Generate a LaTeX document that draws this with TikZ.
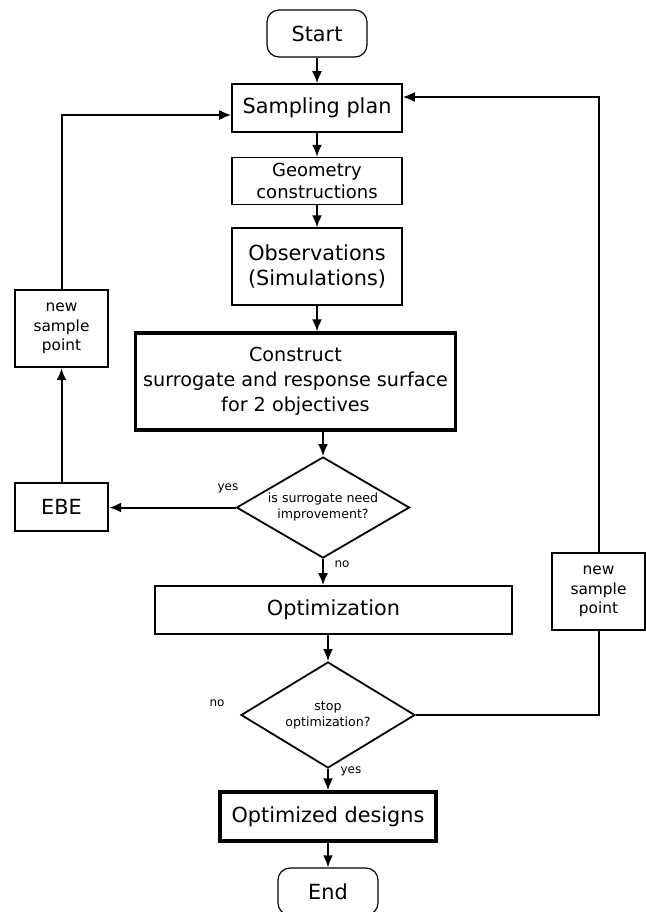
\documentclass[tikz,border=0pt]{standalone}
\usepackage{fontspec}
\setmainfont{DejaVu Sans}
\usetikzlibrary{positioning}
\usetikzlibrary{arrows.meta}
\usetikzlibrary{shapes.geometric}

\begin{document}
\begin{tikzpicture}[x=0.5pt, y=-0.5pt,
        every node/.style={align=center, inner sep=0pt},
        box/.style={draw, line width=0.8pt, minimum width=85pt,
                    font=\fontsize{10.4}{12.5}\selectfont},
        term/.style={box, line width=0.6pt, rounded corners=6pt, minimum width=50pt, minimum height=23.5pt},
        thickbox/.style={draw, line width=1.6pt, font=\fontsize{10.4}{12.5}\selectfont},
        sidebox/.style={draw, line width=1.2pt, minimum width=46.5pt},
        decision/.style={draw, diamond, aspect=1.7, line width=0.9pt, font=\fontsize{6.3}{8}\selectfont},
        lbl/.style={font=\fontsize{6}{7}\selectfont},
        line/.style={draw, line width=1pt},
        arr/.style={line, -{Latex[length=6pt,width=5pt]}}]
    \useasboundingbox (0,0) rectangle (646,912);

    % main column
    \node[term] (start) at (317,33.5) {Start};
    \node[box, minimum height=24pt] (samp) at (317,108) {Sampling plan};
    \node[box, minimum height=23.5pt, font=\fontsize{9}{11}\selectfont,
          below=12pt of samp] (geom) {Geometry\\constructions};
    \node[box, minimum height=38.5pt, below=11pt of geom] (obs) {Observations\\(Simulations)};
    \node[thickbox, minimum width=160pt, minimum height=48.5pt,
          font=\fontsize{9.6}{12.4}\selectfont] (cons) at (295.5,381.5)
        {Construct\\surrogate and response surface\\for 2 objectives};
    \node[decision, minimum width=86.5pt, minimum height=50.5pt] (dec1) at (323,507.5)
        {is surrogate need\\improvement?};
    \node[box, minimum width=178.5pt, minimum height=24pt] (opt) at (333.5,610)
        {Optimization};
    \node[decision, minimum width=87pt, minimum height=53pt] (dec2) at (328,715)
        {stop\\optimization?};
    \node[thickbox, minimum width=108pt, minimum height=24.5pt] (optd) at (328,816.5)
        {Optimized designs};
    \node[term] (end) at (328,891.5) {End};

    % side boxes
    \node[sidebox, minimum height=24pt, font=\fontsize{10.4}{12.5}\selectfont] (ebe) at (61.5,507) {EBE};
    \node[sidebox, minimum height=38.5pt, font=\fontsize{7.7}{9.7}\selectfont] (nsp1) at (61.5,328.5)
        {new\\sample\\point};
    \node[sidebox, minimum height=38.5pt, font=\fontsize{7.7}{9.7}\selectfont] (nsp2) at (598.5,591.5)
        {new\\sample\\point};

    % labels
    \node[lbl] (yes1) at (228,488) {yes};
    \node[lbl] (no1) at (342,564) {no};
    \node[lbl] (no2) at (217,703) {no};
    \node[lbl] (yes2) at (351,771) {yes};

    % connectors
    \draw[arr] (start) -- (samp);
    \draw[arr] (samp) -- (geom);
    \draw[arr] (geom) -- (obs);
    \draw[arr] (obs.south) -- (obs.south |- cons.north);
    \draw[arr] (cons.south -| dec1.north) -- (dec1.north);
    \draw[arr] (dec1.west) -- (dec1.west -| ebe.east);
    \draw[arr] (ebe) -- (nsp1);
    \draw[arr] (nsp1.north) |- ([yshift=-3.5pt]samp.west);
    \draw[arr] (dec1.south) -- (dec1.south |- opt.north);
    \draw[arr] (opt.south -| dec2.north) -- (dec2.north);
    \draw[line] (dec2.east) -| (nsp2.south);
    \draw[arr] (nsp2.north) |- ([yshift=5.5pt]samp.east);
    \draw[arr] (dec2) -- (optd);
    \draw[arr] (optd) -- (end);
\end{tikzpicture}
\end{document}
